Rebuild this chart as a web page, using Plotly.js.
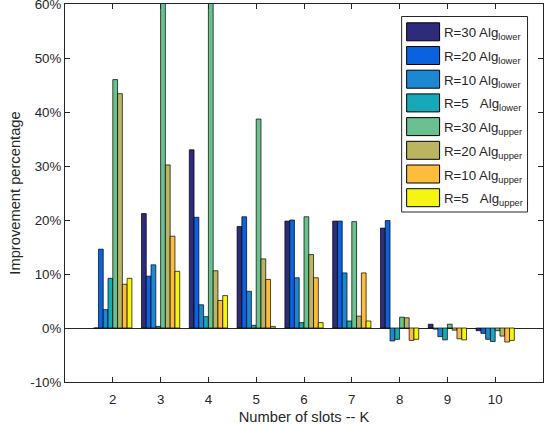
<!DOCTYPE html>
<html>
<head>
<meta charset="utf-8">
<script src="https://cdn.plot.ly/plotly-3.0.1.min.js"></script>
<style>
  html, body { margin: 0; padding: 0; background: #fff; }
  #chart { width: 550px; height: 425px; }
</style>
</head>
<body>
<div id="chart"></div>
<script>
// Number of slots K
const slots = [2, 3, 4, 5, 6, 7, 8, 9, 10];

// Improvement percentage per series (in %)
const r30Lower = [0.0, 21.2, 33.0, 18.8, 19.8, 19.8, 18.5, 0.7, -0.5];
const r20Lower = [14.6, 9.6, 20.5, 20.6, 20.0, 19.8, 19.9, -0.2, -1.0];
const r10Lower = [3.4, 11.7, 4.3, 6.8, 9.3, 10.2, -2.4, -1.6, -2.1];
const r5Lower  = [9.2, 0.3, 2.1, 0.5, 1.0, 1.3, -2.1, -2.2, -2.5];
const r30Upper = [46.0, 64.0, 67.0, 38.7, 20.6, 19.7, 2.0, 0.7, -0.5];
const r20Upper = [43.4, 30.2, 10.6, 12.8, 13.6, 2.2, 1.9, -0.4, -1.5];
const r10Upper = [8.1, 17.0, 5.1, 9.0, 9.3, 10.2, -2.3, -2.0, -2.6];
const r5Upper  = [9.2, 10.5, 6.0, 0.3, 1.0, 1.3, -2.1, -2.2, -2.3];

const seriesNames = [
  'R=30 Alg<sub>lower</sub>',
  'R=20 Alg<sub>lower</sub>',
  'R=10 Alg<sub>lower</sub>',
  'R=5\u00a0\u00a0\u00a0Alg<sub>lower</sub>',
  'R=30 Alg<sub>upper</sub>',
  'R=20 Alg<sub>upper</sub>',
  'R=10 Alg<sub>upper</sub>',
  'R=5\u00a0\u00a0\u00a0Alg<sub>upper</sub>'
];
const seriesValues = [r30Lower, r20Lower, r10Lower, r5Lower,
                      r30Upper, r20Upper, r10Upper, r5Upper];

// y-axis ticks
const yTickVals = [-10, 0, 10, 20, 30, 40, 50, 60];
const yTickText = ['-10%', '0%', '10%', '20%', '30%', '40%', '50%', '60%'];

// parula-like palette
const colors = ['#2e2a7c', '#0b62df', '#1d88d2', '#16aab8',
                '#6ac08e', '#bbb562', '#fcbc3c', '#f6f511'];

const FONT = '"Liberation Sans", Arial, Helvetica, sans-serif';
const INK = '#262626';

const traces = seriesValues.map((vals, i) => ({
  type: 'bar',
  x: slots,
  y: vals,
  name: seriesNames[i],
  marker: { color: colors[i], line: { color: '#000', width: 0.7 } },
  showlegend: false,
  hoverinfo: 'x+y'
}));

// Plot-area geometry (px) used to place the boxed legend
const M = { l: 65, r: 6.5, t: 4, b: 43 };
const W = 550, H = 425;
const pw = W - M.l - M.r, ph = H - M.t - M.b;
const px2x = px => (px - M.l) / pw;
const py2y = py => (H - M.b - py) / ph;

const shapes = [];
const annotations = [];

// legend frame
shapes.push({
  type: 'rect', xref: 'paper', yref: 'paper',
  x0: px2x(402), x1: px2x(528), y0: py2y(212), y1: py2y(16.5),
  fillcolor: '#fff', line: { color: INK, width: 1 }, layer: 'above'
});
seriesNames.forEach((nm, i) => {
  const cy = 31.8 + i * 23.7;
  shapes.push({
    type: 'rect', xref: 'paper', yref: 'paper',
    x0: px2x(407), x1: px2x(440), y0: py2y(cy + 9), y1: py2y(cy - 9),
    fillcolor: colors[i], line: { color: '#000', width: 1 }, layer: 'above'
  });
  annotations.push({
    xref: 'paper', yref: 'paper', x: px2x(442), y: py2y(cy + 2),
    xanchor: 'left', yanchor: 'middle', showarrow: false,
    text: nm, font: { family: FONT, size: 13.3, color: INK }
  });
});

const axisCommon = {
  showline: true, linecolor: INK, linewidth: 1, mirror: 'ticks',
  ticks: 'inside', ticklen: 5, tickwidth: 1, tickcolor: INK,
  showgrid: false, automargin: false, ticklabeloverflow: 'allow',
  tickfont: { family: FONT, size: 13.3, color: INK }
};

const layout = {
  width: W, height: H,
  margin: M,
  paper_bgcolor: '#fff', plot_bgcolor: '#fff',
  barmode: 'group', bargap: 0.2, bargroupgap: 0,
  font: { family: FONT, color: INK },
  xaxis: Object.assign({}, axisCommon, {
    range: [1, 11], tickvals: slots, zeroline: false,
    ticklabelstandoff: 5,
    title: { text: 'Number of slots -- K', font: { family: FONT, size: 14.7, color: INK }, standoff: 11 }
  }),
  yaxis: Object.assign({}, axisCommon, {
    range: [-10, 60], tickvals: yTickVals, ticktext: yTickText,
    zeroline: true, zerolinecolor: INK, zerolinewidth: 1,
    title: { text: 'Improvement percentage', font: { family: FONT, size: 14.7, color: INK }, standoff: 6 }
  }),
  shapes: shapes,
  annotations: annotations
};

Plotly.newPlot('chart', traces, layout, { displayModeBar: false, staticPlot: true });
</script>
</body>
</html>
